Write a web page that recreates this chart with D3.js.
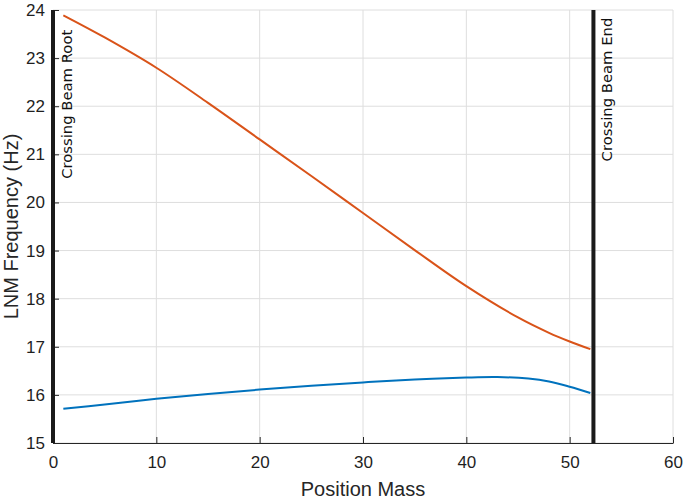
<!DOCTYPE html>
<html>
<head>
<meta charset="utf-8">
<script src="https://cdn.jsdelivr.net/npm/d3@7"></script>
<style>
  html, body { margin: 0; padding: 0; background: #fff; }
  svg { display: block; }
</style>
</head>
<body>
<svg id="chart" width="685" height="502"></svg>
<script>
// ---- data ----
const xTicks = [0, 10, 20, 30, 40, 50, 60];
const yTicks = [15, 16, 17, 18, 19, 20, 21, 22, 23, 24];

const orangeX = [1, 5, 10, 15, 20, 25, 30, 35, 40, 45, 48, 50, 52];
const orangeY = [23.89, 23.43, 22.80, 22.07, 21.31, 20.55, 19.78, 19.01, 18.26, 17.61, 17.29, 17.11, 16.95];

const blueX = [1, 5, 10, 15, 20, 25, 30, 35, 40, 43, 46, 48, 50, 52];
const blueY = [15.71, 15.80, 15.92, 16.02, 16.11, 16.19, 16.26, 16.32, 16.36, 16.37, 16.34, 16.28, 16.17, 16.04];

const markerX = [0, 52.3];
const markerLabels = ["Crossing Beam Root", "Crossing Beam End"];
const markerLabelY = [23.59, 23.84];

const xLabel = "Position Mass";
const yLabel = "LNM Frequency (Hz)";

// ---- layout ----
const W = 685, H = 502;
const m = { left: 53, top: 10, right: 12, bottom: 59 };
const iw = W - m.left - m.right, ih = H - m.top - m.bottom;

const svg = d3.select("#chart");
const g = svg.append("g").attr("transform", `translate(${m.left},${m.top})`);

const x = d3.scaleLinear().domain([0, 60]).range([0, iw]);
const y = d3.scaleLinear().domain([15, 24]).range([ih, 0]);

const tickFont = "Liberation Sans, Arial, Helvetica, sans-serif";

// grid
g.append("g").selectAll("line").data(xTicks).join("line")
  .attr("x1", d => x(d)).attr("x2", d => x(d))
  .attr("y1", 0).attr("y2", ih)
  .attr("stroke", "#dedede").attr("stroke-width", 1);
g.append("g").selectAll("line").data(yTicks).join("line")
  .attr("x1", 0).attr("x2", iw)
  .attr("y1", d => y(d)).attr("y2", d => y(d))
  .attr("stroke", "#dedede").attr("stroke-width", 1);

// axes
const xAxis = d3.axisBottom(x).tickValues(xTicks).tickSize(-6).tickPadding(13).tickSizeOuter(0);
const yAxis = d3.axisLeft(y).tickValues(yTicks).tickSize(-6).tickPadding(8).tickSizeOuter(0);

const gx = g.append("g").attr("transform", `translate(0,${ih})`).call(xAxis);
const gy = g.append("g").call(yAxis);
[gx, gy].forEach(a => {
  a.select(".domain").attr("stroke", "#262626").attr("stroke-width", 1);
  a.selectAll(".tick line").attr("stroke", "#262626").attr("stroke-width", 1);
  a.selectAll(".tick text").attr("fill", "#1f1f1f")
    .style("font-family", tickFont).style("font-size", "17px");
});
gx.selectAll(".tick text").attr("dy", "0.71em");

// curves
const line = d3.line().x(d => x(d[0])).y(d => y(d[1])).curve(d3.curveCatmullRom.alpha(0.5));
const orange = orangeX.map((v, i) => [v, orangeY[i]]);
const blue = blueX.map((v, i) => [v, blueY[i]]);

g.append("path").datum(orange).attr("d", line)
  .attr("fill", "none").attr("stroke", "#D95319").attr("stroke-width", 2);
g.append("path").datum(blue).attr("d", line)
  .attr("fill", "none").attr("stroke", "#0072BD").attr("stroke-width", 2);

// vertical marker lines
g.append("g").selectAll("line").data(markerX).join("line")
  .attr("x1", d => x(d)).attr("x2", d => x(d))
  .attr("y1", 0).attr("y2", ih)
  .attr("stroke", "#1a1a1a").attr("stroke-width", 4);

// marker labels
g.append("g").selectAll("text").data(markerX).join("text")
  .attr("transform", (d, i) => `translate(${x(d) + 19},${y(markerLabelY[i])}) rotate(-90)`)
  .attr("text-anchor", "end")
  .style("font-family", "DejaVu Sans, sans-serif")
  .style("font-size", "14.8px")
  .attr("fill", "#111")
  .text((d, i) => markerLabels[i]);

// axis labels
svg.append("text")
  .attr("x", m.left + iw / 2).attr("y", H - 6)
  .attr("text-anchor", "middle")
  .style("font-family", tickFont).style("font-size", "20px")
  .attr("fill", "#262626")
  .text(xLabel);

svg.append("text")
  .attr("transform", `translate(18,${m.top + ih / 2}) rotate(-90)`)
  .attr("text-anchor", "middle")
  .style("font-family", tickFont).style("font-size", "20px")
  .attr("fill", "#262626")
  .text(yLabel);
</script>
</body>
</html>
